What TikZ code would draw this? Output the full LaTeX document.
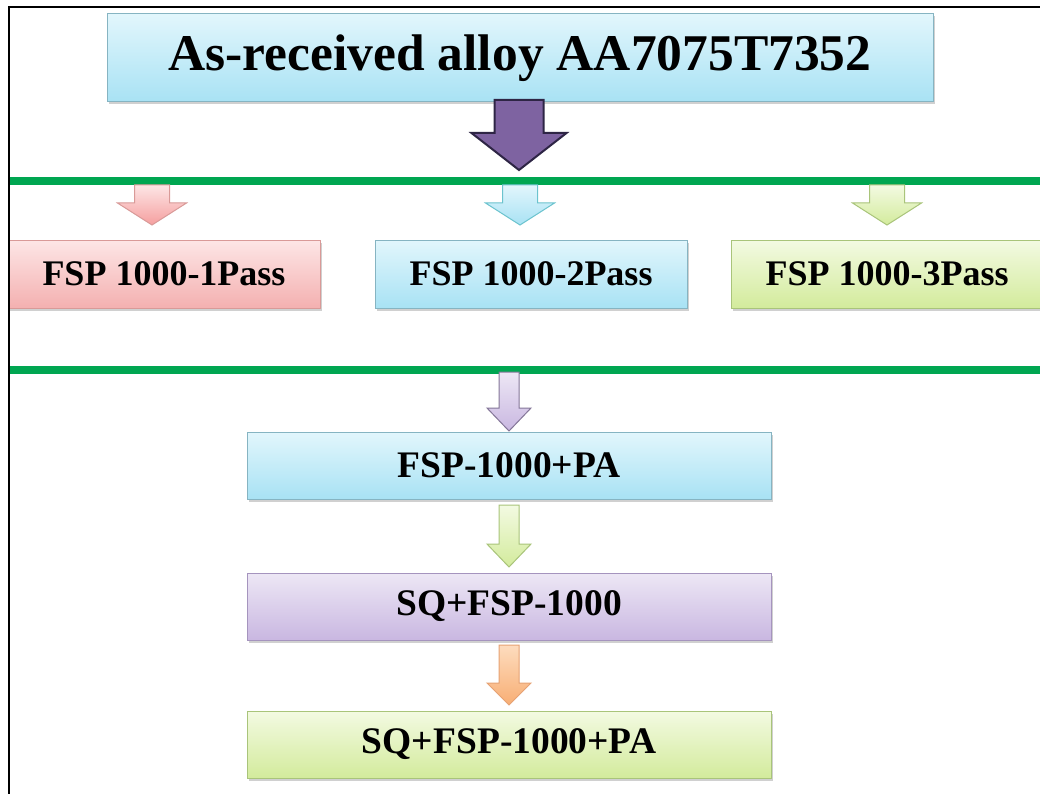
\documentclass[tikz,border=0pt]{standalone}
\usepackage{fontspec}
\setmainfont{Liberation Serif}
\usetikzlibrary{shadows}
\definecolor{gline}{HTML}{00A651}
\definecolor{blueTop}{HTML}{E2F6FC}
\definecolor{blueBot}{HTML}{A8E2F4}
\definecolor{blueBd}{HTML}{86B4C2}
\definecolor{pinkTop}{HTML}{FDE6E6}
\definecolor{pinkBot}{HTML}{F4B0B0}
\definecolor{pinkBd}{HTML}{D99A98}
\definecolor{greenTop}{HTML}{F3FAE2}
\definecolor{greenBot}{HTML}{D3EB9C}
\definecolor{greenBd}{HTML}{A9C47A}
\definecolor{purpTop}{HTML}{EDE7F5}
\definecolor{purpBot}{HTML}{C9B7E1}
\definecolor{purpBd}{HTML}{A594BE}
\definecolor{bigFill}{HTML}{7E63A1}
\definecolor{bigBd}{HTML}{2E2545}
\definecolor{orTop}{HTML}{FDDCBE}
\definecolor{orBot}{HTML}{F8AE74}
\definecolor{orBd}{HTML}{E6A274}
\newcommand{\blockarrow}[6]{% style, tip, length, head length, shaft half, head half
  \draw[#1,shift={(#2)}] (-#5,-#3) -- (#5,-#3) -- (#5,-#4) -- (#6,-#4) -- (0,0)
     -- (-#6,-#4) -- (-#5,-#4) -- cycle;}
\tikzset{
  box/.style={draw, line width=1pt, inner sep=0pt, align=center,
     font=\bfseries\fontsize{36}{40}\selectfont,
     drop shadow={shadow xshift=2pt, shadow yshift=-2.5pt, opacity=0.3, fill=black!60}},
  bluebox/.style={box, top color=blueTop, bottom color=blueBot, draw=blueBd},
  pinkbox/.style={box, top color=pinkTop, bottom color=pinkBot, draw=pinkBd},
  greenbox/.style={box, top color=greenTop, bottom color=greenBot, draw=greenBd},
  purpbox/.style={box, top color=purpTop, bottom color=purpBot, draw=purpBd},
  rowbox/.style={minimum width=312pt, minimum height=68pt},
  lowbox/.style={minimum width=524pt, minimum height=67pt,
     font=\bfseries\fontsize{37.5}{42}\selectfont},
  sep/.style={draw=gline, line width=7.5pt},
  arr/.style={line width=1pt, line join=miter},
  pinkarr/.style={arr, top color=pinkTop, bottom color=pinkBot!90!red, draw=pinkBd},
  bluearr/.style={arr, top color=blueTop, bottom color=blueBot, draw=blueBd!80!cyan},
  greenarr/.style={arr, top color=greenTop, bottom color=greenBot, draw=greenBd},
  purparr/.style={arr, top color=purpTop, bottom color=purpBot, draw=purpBd!80!black},
  orarr/.style={arr, top color=orTop, bottom color=orBot, draw=orBd},
  bigarr/.style={line width=2pt, line join=miter, fill=bigFill, draw=bigBd},
}
\begin{document}
\begin{tikzpicture}[x=1pt,y=-1pt]
\useasboundingbox (0,0) rectangle (1040,794);
\fill[white] (0,0) rectangle (1040,794);

% separator lines
\coordinate (l1a) at (10,181); \coordinate (l1b) at (1040,181);
\coordinate (l2a) at (10,370); \coordinate (l2b) at (1040,370);
\draw[sep] (l1a) -- (l1b);
\draw[sep] (l2a) -- (l2b);

% top box
\node[bluebox, minimum width=826pt, minimum height=88pt,
      font=\bfseries\fontsize{51.5}{56}\selectfont] (top) at (520,58) {As-received alloy AA7075T7352};

% big arrow
\coordinate (bigtip) at (519,170);
\blockarrow{bigarr}{bigtip}{70}{37}{24.5}{47.5}

% row of boxes
\node[pinkbox, rowbox] (p1) at (164,274) {FSP 1000-1Pass};
\node[bluebox, rowbox] (p2) at (531,274) {FSP 1000-2Pass};
\node[greenbox, rowbox] (p3) at (887,274) {FSP 1000-3Pass};

\coordinate (t1) at (152,225);
\coordinate (t2) at (520,225);
\coordinate (t3) at (887,225);
\blockarrow{pinkarr}{t1}{40}{22}{17.5}{34.5}
\blockarrow{bluearr}{t2}{40}{22}{17.5}{34.5}
\blockarrow{greenarr}{t3}{40}{22}{17.5}{34.5}

% lower chain
\node[bluebox, lowbox] (b1) at (509,465.5) {FSP-1000+PA};
\node[purpbox, lowbox] (b2) at (509,606.5) {SQ+FSP-1000};
\node[greenbox, lowbox] (b3) at (509,744.5) {SQ+FSP-1000+PA};

\coordinate (u1) at (509,431);
\coordinate (u2) at (509,567);
\coordinate (u3) at (509,705);
\blockarrow{purparr}{u1}{59}{23}{10}{22}
\blockarrow{greenarr}{u2}{62}{23}{10}{22}
\blockarrow{orarr}{u3}{60}{22}{10}{22}

% frame
\coordinate (fa) at (9,794); \coordinate (fb) at (9,7); \coordinate (fc) at (1040,7);
\draw[line width=2pt] (fa) -- (fb) -- (fc);
\end{tikzpicture}
\end{document}
